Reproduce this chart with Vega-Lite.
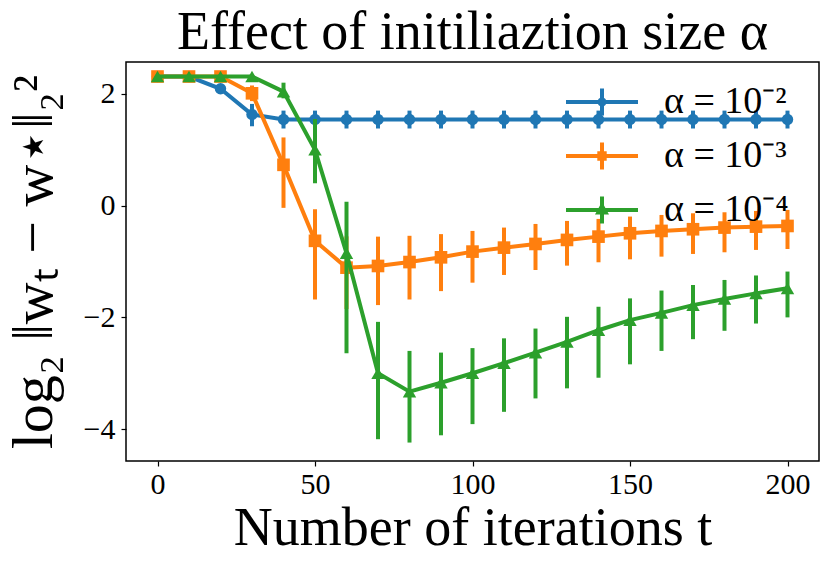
{
  "$schema": "https://vega.github.io/schema/vega-lite/v6.json",
  "width": 693,
  "height": 399,
  "autosize": "none",
  "padding": {"left": 126, "top": 62, "right": 11, "bottom": 105},
  "background": "white",
  "config": {
    "view": {"stroke": "black", "strokeWidth": 1.5},
    "font": "Liberation Serif",
    "axis": {
      "domain": false, "grid": false,
      "tickColor": "black", "tickSize": 5, "tickWidth": 1.2,
      "labelFont": "Liberation Serif", "labelFontSize": 30, "labelColor": "black",
      "titleFont": "Liberation Serif", "titleFontSize": 54, "titleFontWeight": "normal", "titleColor": "black"
    },
    "title": {"font": "Liberation Serif", "fontSize": 54, "fontWeight": "normal", "color": "black", "anchor": "middle", "frame": "group", "offset": 2}
  },
  "title": "Effect of initiliaztion size α",
  "data": {
    "values": [
      {"s": "α = 10⁻²", "t": 0, "y": 2.31, "lo": 2.29, "hi": 2.33},
      {"s": "α = 10⁻²", "t": 10, "y": 2.31, "lo": 2.29, "hi": 2.33},
      {"s": "α = 10⁻²", "t": 20, "y": 2.09, "lo": 2.04, "hi": 2.14},
      {"s": "α = 10⁻²", "t": 30, "y": 1.63, "lo": 1.42, "hi": 1.82},
      {"s": "α = 10⁻²", "t": 40, "y": 1.54, "lo": 1.38, "hi": 1.7},
      {"s": "α = 10⁻²", "t": 50, "y": 1.54, "lo": 1.38, "hi": 1.7},
      {"s": "α = 10⁻²", "t": 60, "y": 1.54, "lo": 1.38, "hi": 1.7},
      {"s": "α = 10⁻²", "t": 70, "y": 1.54, "lo": 1.38, "hi": 1.7},
      {"s": "α = 10⁻²", "t": 80, "y": 1.54, "lo": 1.38, "hi": 1.7},
      {"s": "α = 10⁻²", "t": 90, "y": 1.54, "lo": 1.38, "hi": 1.7},
      {"s": "α = 10⁻²", "t": 100, "y": 1.54, "lo": 1.38, "hi": 1.7},
      {"s": "α = 10⁻²", "t": 110, "y": 1.54, "lo": 1.38, "hi": 1.7},
      {"s": "α = 10⁻²", "t": 120, "y": 1.54, "lo": 1.38, "hi": 1.7},
      {"s": "α = 10⁻²", "t": 130, "y": 1.54, "lo": 1.38, "hi": 1.7},
      {"s": "α = 10⁻²", "t": 140, "y": 1.54, "lo": 1.38, "hi": 1.7},
      {"s": "α = 10⁻²", "t": 150, "y": 1.54, "lo": 1.38, "hi": 1.7},
      {"s": "α = 10⁻²", "t": 160, "y": 1.54, "lo": 1.38, "hi": 1.7},
      {"s": "α = 10⁻²", "t": 170, "y": 1.54, "lo": 1.38, "hi": 1.7},
      {"s": "α = 10⁻²", "t": 180, "y": 1.54, "lo": 1.38, "hi": 1.7},
      {"s": "α = 10⁻²", "t": 190, "y": 1.54, "lo": 1.38, "hi": 1.7},
      {"s": "α = 10⁻²", "t": 200, "y": 1.54, "lo": 1.38, "hi": 1.7},
      {"s": "α = 10⁻³", "t": 0, "y": 2.31, "lo": 2.29, "hi": 2.33},
      {"s": "α = 10⁻³", "t": 10, "y": 2.31, "lo": 2.29, "hi": 2.33},
      {"s": "α = 10⁻³", "t": 20, "y": 2.31, "lo": 2.29, "hi": 2.33},
      {"s": "α = 10⁻³", "t": 30, "y": 2.01, "lo": 1.87, "hi": 2.15},
      {"s": "α = 10⁻³", "t": 40, "y": 0.73, "lo": -0.04, "hi": 1.22},
      {"s": "α = 10⁻³", "t": 50, "y": -0.63, "lo": -1.68, "hi": -0.065},
      {"s": "α = 10⁻³", "t": 60, "y": -1.11, "lo": -1.85, "hi": -0.55},
      {"s": "α = 10⁻³", "t": 70, "y": -1.08, "lo": -1.78, "hi": -0.555},
      {"s": "α = 10⁻³", "t": 80, "y": -1.01, "lo": -1.68, "hi": -0.54},
      {"s": "α = 10⁻³", "t": 90, "y": -0.925, "lo": -1.53, "hi": -0.51},
      {"s": "α = 10⁻³", "t": 100, "y": -0.823, "lo": -1.379, "hi": -0.453},
      {"s": "α = 10⁻³", "t": 110, "y": -0.752, "lo": -1.241, "hi": -0.393},
      {"s": "α = 10⁻³", "t": 120, "y": -0.686, "lo": -1.152, "hi": -0.328},
      {"s": "α = 10⁻³", "t": 130, "y": -0.614, "lo": -1.074, "hi": -0.274},
      {"s": "α = 10⁻³", "t": 140, "y": -0.555, "lo": -1.014, "hi": -0.238},
      {"s": "α = 10⁻³", "t": 150, "y": -0.495, "lo": -0.961, "hi": -0.196},
      {"s": "α = 10⁻³", "t": 160, "y": -0.453, "lo": -0.913, "hi": -0.167},
      {"s": "α = 10⁻³", "t": 170, "y": -0.423, "lo": -0.865, "hi": -0.137},
      {"s": "α = 10⁻³", "t": 180, "y": -0.393, "lo": -0.835, "hi": -0.119},
      {"s": "α = 10⁻³", "t": 190, "y": -0.376, "lo": -0.793, "hi": -0.095},
      {"s": "α = 10⁻³", "t": 200, "y": -0.364, "lo": -0.776, "hi": -0.077},
      {"s": "α = 10⁻⁴", "t": 0, "y": 2.31, "lo": 2.29, "hi": 2.33},
      {"s": "α = 10⁻⁴", "t": 10, "y": 2.31, "lo": 2.29, "hi": 2.33},
      {"s": "α = 10⁻⁴", "t": 20, "y": 2.31, "lo": 2.29, "hi": 2.33},
      {"s": "α = 10⁻⁴", "t": 30, "y": 2.31, "lo": 2.29, "hi": 2.33},
      {"s": "α = 10⁻⁴", "t": 40, "y": 2.04, "lo": 1.92, "hi": 2.2},
      {"s": "α = 10⁻⁴", "t": 50, "y": 1.0, "lo": 0.4, "hi": 1.55},
      {"s": "α = 10⁻⁴", "t": 60, "y": -0.85, "lo": -2.64, "hi": 0.07},
      {"s": "α = 10⁻⁴", "t": 70, "y": -3.0, "lo": -4.18, "hi": -2.08},
      {"s": "α = 10⁻⁴", "t": 80, "y": -3.33, "lo": -4.24, "hi": -2.6},
      {"s": "α = 10⁻⁴", "t": 90, "y": -3.17, "lo": -4.11, "hi": -2.63},
      {"s": "α = 10⁻⁴", "t": 100, "y": -3.0, "lo": -3.91, "hi": -2.55},
      {"s": "α = 10⁻⁴", "t": 110, "y": -2.82, "lo": -3.69, "hi": -2.375},
      {"s": "α = 10⁻⁴", "t": 120, "y": -2.63, "lo": -3.45, "hi": -2.2},
      {"s": "α = 10⁻⁴", "t": 130, "y": -2.44, "lo": -3.27, "hi": -1.99},
      {"s": "α = 10⁻⁴", "t": 140, "y": -2.23, "lo": -3.08, "hi": -1.81},
      {"s": "α = 10⁻⁴", "t": 150, "y": -2.05, "lo": -2.84, "hi": -1.66},
      {"s": "α = 10⁻⁴", "t": 160, "y": -1.92, "lo": -2.6, "hi": -1.52},
      {"s": "α = 10⁻⁴", "t": 170, "y": -1.78, "lo": -2.39, "hi": -1.42},
      {"s": "α = 10⁻⁴", "t": 180, "y": -1.67, "lo": -2.24, "hi": -1.33},
      {"s": "α = 10⁻⁴", "t": 190, "y": -1.57, "lo": -2.11, "hi": -1.25},
      {"s": "α = 10⁻⁴", "t": 200, "y": -1.48, "lo": -2.0, "hi": -1.18}
    ]
  },
  "encoding": {
    "x": {
      "field": "t", "type": "quantitative",
      "scale": {"domain": [-10, 210], "nice": false, "zero": false},
      "axis": {"values": [0, 50, 100, 150, 200], "title": "Number of iterations t", "labelPadding": 3, "titlePadding": 2}
    }
  },
  "resolve": {"legend": {"color": "independent"}},
  "layer": [
    {
      "transform": [{"filter": "datum.s === 'α = 10⁻²'"}],
      "layer": [
        {"mark": {"type": "rule", "strokeWidth": 4},
         "encoding": {
           "y": {"field": "lo", "type": "quantitative", "scale": {"domain": [-4.57, 2.57], "nice": false, "zero": false}, "axis": {"values": [-4, -2, 0, 2], "title": "log₂ ‖wₜ − w⋆‖₂²", "labelPadding": 6, "titlePadding": 20, "titleFontSize": 58}},
           "y2": {"field": "hi"},
           "color": {"field": "s", "type": "nominal", "scale": {"domain": ["α = 10⁻²", "α = 10⁻³", "α = 10⁻⁴"], "range": ["#1f77b4", "#ff7f0e", "#2ca02c"]}, "legend": null}}},
        {"mark": {"type": "line", "strokeWidth": 4},
         "encoding": {
           "y": {"field": "y", "type": "quantitative", "scale": {"domain": [-4.57, 2.57], "nice": false, "zero": false}, "axis": {"values": [-4, -2, 0, 2], "title": "log₂ ‖wₜ − w⋆‖₂²", "labelPadding": 6, "titlePadding": 20, "titleFontSize": 58}},
           "color": {"field": "s", "type": "nominal", "scale": {"domain": ["α = 10⁻²", "α = 10⁻³", "α = 10⁻⁴"], "range": ["#1f77b4", "#ff7f0e", "#2ca02c"]}, "legend": null}}},
        {"mark": {"type": "point", "shape": "circle", "filled": true, "size": 130, "opacity": 1},
         "encoding": {
           "y": {"field": "y", "type": "quantitative", "scale": {"domain": [-4.57, 2.57], "nice": false, "zero": false}, "axis": {"values": [-4, -2, 0, 2], "title": "log₂ ‖wₜ − w⋆‖₂²", "labelPadding": 6, "titlePadding": 20, "titleFontSize": 58}},
           "color": {"field": "s", "type": "nominal", "scale": {"domain": ["α = 10⁻²", "α = 10⁻³", "α = 10⁻⁴"], "range": ["#1f77b4", "#ff7f0e", "#2ca02c"]}, "legend": null}}}
      ]
    },
    {
      "transform": [{"filter": "datum.s === 'α = 10⁻³'"}],
      "layer": [
        {"mark": {"type": "rule", "strokeWidth": 4},
         "encoding": {
           "y": {"field": "lo", "type": "quantitative", "scale": {"domain": [-4.57, 2.57], "nice": false, "zero": false}, "axis": {"values": [-4, -2, 0, 2], "title": "log₂ ‖wₜ − w⋆‖₂²", "labelPadding": 6, "titlePadding": 20, "titleFontSize": 58}},
           "y2": {"field": "hi"},
           "color": {"field": "s", "type": "nominal", "scale": {"domain": ["α = 10⁻²", "α = 10⁻³", "α = 10⁻⁴"], "range": ["#1f77b4", "#ff7f0e", "#2ca02c"]}, "legend": null}}},
        {"mark": {"type": "line", "strokeWidth": 4},
         "encoding": {
           "y": {"field": "y", "type": "quantitative", "scale": {"domain": [-4.57, 2.57], "nice": false, "zero": false}, "axis": {"values": [-4, -2, 0, 2], "title": "log₂ ‖wₜ − w⋆‖₂²", "labelPadding": 6, "titlePadding": 20, "titleFontSize": 58}},
           "color": {"field": "s", "type": "nominal", "scale": {"domain": ["α = 10⁻²", "α = 10⁻³", "α = 10⁻⁴"], "range": ["#1f77b4", "#ff7f0e", "#2ca02c"]}, "legend": null}}},
        {"mark": {"type": "point", "shape": "square", "filled": true, "size": 160, "opacity": 1},
         "encoding": {
           "y": {"field": "y", "type": "quantitative", "scale": {"domain": [-4.57, 2.57], "nice": false, "zero": false}, "axis": {"values": [-4, -2, 0, 2], "title": "log₂ ‖wₜ − w⋆‖₂²", "labelPadding": 6, "titlePadding": 20, "titleFontSize": 58}},
           "color": {"field": "s", "type": "nominal", "scale": {"domain": ["α = 10⁻²", "α = 10⁻³", "α = 10⁻⁴"], "range": ["#1f77b4", "#ff7f0e", "#2ca02c"]}, "legend": null}}}
      ]
    },
    {
      "transform": [{"filter": "datum.s === 'α = 10⁻⁴'"}],
      "layer": [
        {"mark": {"type": "rule", "strokeWidth": 4},
         "encoding": {
           "y": {"field": "lo", "type": "quantitative", "scale": {"domain": [-4.57, 2.57], "nice": false, "zero": false}, "axis": {"values": [-4, -2, 0, 2], "title": "log₂ ‖wₜ − w⋆‖₂²", "labelPadding": 6, "titlePadding": 20, "titleFontSize": 58}},
           "y2": {"field": "hi"},
           "color": {"field": "s", "type": "nominal", "scale": {"domain": ["α = 10⁻²", "α = 10⁻³", "α = 10⁻⁴"], "range": ["#1f77b4", "#ff7f0e", "#2ca02c"]}, "legend": null}}},
        {"mark": {"type": "line", "strokeWidth": 4},
         "encoding": {
           "y": {"field": "y", "type": "quantitative", "scale": {"domain": [-4.57, 2.57], "nice": false, "zero": false}, "axis": {"values": [-4, -2, 0, 2], "title": "log₂ ‖wₜ − w⋆‖₂²", "labelPadding": 6, "titlePadding": 20, "titleFontSize": 58}},
           "color": {"field": "s", "type": "nominal", "scale": {"domain": ["α = 10⁻²", "α = 10⁻³", "α = 10⁻⁴"], "range": ["#1f77b4", "#ff7f0e", "#2ca02c"]}, "legend": null}}},
        {"mark": {"type": "point", "shape": "triangle-up", "filled": true, "size": 180, "opacity": 1},
         "encoding": {
           "y": {"field": "y", "type": "quantitative", "scale": {"domain": [-4.57, 2.57], "nice": false, "zero": false}, "axis": {"values": [-4, -2, 0, 2], "title": "log₂ ‖wₜ − w⋆‖₂²", "labelPadding": 6, "titlePadding": 20, "titleFontSize": 58}},
           "color": {"field": "s", "type": "nominal", "scale": {"domain": ["α = 10⁻²", "α = 10⁻³", "α = 10⁻⁴"], "range": ["#1f77b4", "#ff7f0e", "#2ca02c"]}, "legend": null}}}
      ]
    },
    {
      "transform": [{"filter": "false"}],
      "mark": {"type": "point", "filled": false, "strokeWidth": 4, "opacity": 1},
      "encoding": {
        "y": {"field": "y", "type": "quantitative", "scale": {"domain": [-4.57, 2.57], "nice": false, "zero": false}, "axis": {"values": [-4, -2, 0, 2], "title": "log₂ ‖wₜ − w⋆‖₂²", "labelPadding": 6, "titlePadding": 20, "titleFontSize": 58}},
        "stroke": {
          "field": "s", "type": "nominal",
          "scale": {"domain": ["α = 10⁻²", "α = 10⁻³", "α = 10⁻⁴"], "range": ["#1f77b4", "#ff7f0e", "#2ca02c"]},
          "legend": {
            "orient": "none", "legendX": 457, "legendY": 21, "title": null, "padding": 0,
            "labelFont": "Liberation Serif", "labelFontSize": 38, "labelColor": "black",
            "symbolSize": 900, "labelOffset": 43, "rowPadding": 10, "symbolStrokeWidth": 4, "symbolOpacity": 1
          }
        },
        "shape": {
          "field": "s", "type": "nominal",
          "scale": {
            "domain": ["α = 10⁻²", "α = 10⁻³", "α = 10⁻⁴"],
            "range": [
              "M-2.4,0H2.4M0,-0.9V0.9M-0.17,0A0.17,0.17,0,1,0,0.17,0A0.17,0.17,0,1,0,-0.17,0ZM-0.05,0A0.05,0.05,0,1,0,0.05,0A0.05,0.05,0,1,0,-0.05,0Z",
              "M-2.4,0H2.4M0,-0.9V0.9M-0.18,-0.18H0.18V0.18H-0.18ZM-0.05,-0.05H0.05V0.05H-0.05Z",
              "M-2.4,0H2.4M0,-0.9V0.9M0,-0.27L0.24,0.16H-0.24ZM0,-0.05L0.05,0.04H-0.05Z"
            ]
          },
          "legend": {
            "orient": "none", "legendX": 457, "legendY": 21, "title": null, "padding": 0,
            "labelFont": "Liberation Serif", "labelFontSize": 38, "labelColor": "black",
            "symbolSize": 900, "labelOffset": 43, "rowPadding": 10, "symbolStrokeWidth": 4, "symbolOpacity": 1
          }
        }
      }
    }
  ]
}
